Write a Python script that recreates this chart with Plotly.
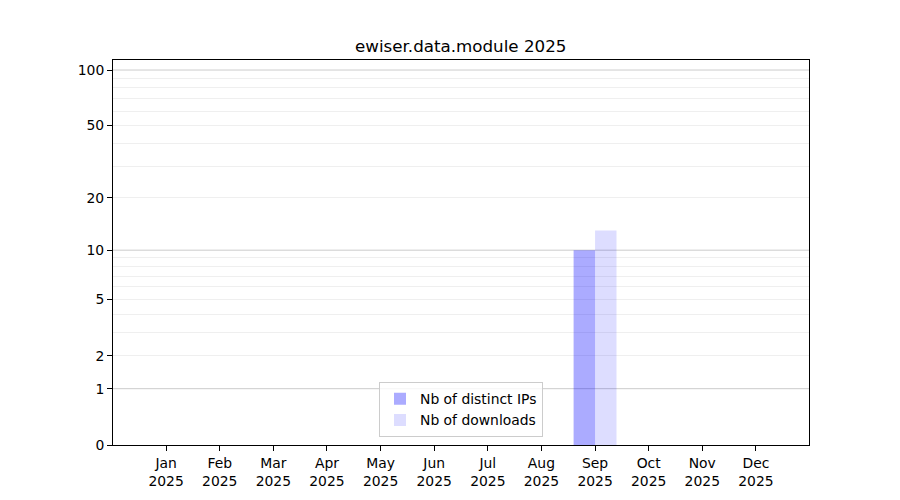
import numpy as np
import plotly.graph_objects as go

font_family = 'DejaVu Sans'

months = ['Jan', 'Feb', 'Mar', 'Apr', 'May', 'Jun', 'Jul', 'Aug', 'Sep', 'Oct', 'Nov', 'Dec']
year = '2025'
distinct_ips = [0, 0, 0, 0, 0, 0, 0, 0, 10, 0, 0, 0]
downloads = [0, 0, 0, 0, 0, 0, 0, 0, 13, 0, 0, 0]

y_tick_values = [0, 1, 2, 5, 10, 20, 50, 100]
y_major_grid = [1, 10, 100]
y_minor_grid = [2, 3, 4, 5, 6, 7, 8, 9, 20, 30, 40, 50, 60, 70, 80, 90]


def sym(v):
	# log(1+x) scale, same as the reference axis
	return np.log10(1 + np.asarray(v, dtype=float))


x_pos = list(range(len(months)))
tick_text = [m + '<br>' + year for m in months]

fig = go.Figure()

fig.add_trace(go.Bar(
	x=x_pos,
	y=sym(distinct_ips),
	customdata=distinct_ips,
	width=0.4,
	offset=-0.4,
	name='Nb of distinct IPs',
	marker=dict(color='rgba(0,0,255,0.33)', line=dict(width=0)),
	hovertemplate='%{customdata}<extra></extra>',
))
fig.add_trace(go.Bar(
	x=x_pos,
	y=sym(downloads),
	customdata=downloads,
	width=0.4,
	offset=0,
	name='Nb of downloads',
	marker=dict(color='rgba(0,0,255,0.135)', line=dict(width=0)),
	hovertemplate='%{customdata}<extra></extra>',
))

# darker grid lines on decades
for v in y_major_grid:
	fig.add_hline(y=float(sym(v)), line=dict(color='#cccccc', width=1), layer='below')

# the page body adds 8px, so margins are trimmed by that
fig.update_layout(
	width=900,
	height=500,
	barmode='overlay',
	plot_bgcolor='white',
	paper_bgcolor='white',
	margin=dict(l=105, r=99, t=52, b=63, pad=0),
	font=dict(family=font_family, size=13.9, color='black'),
	title=dict(
		text='ewiser.data.module 2025',
		font=dict(size=16.7, family=font_family, color='black'),
		x=0.503,
		xanchor='center',
		xref='container',
		y=0.924,
		yanchor='middle',
		yref='container',
	),
	legend=dict(
		x=0.5,
		xanchor='center',
		y=0.02,
		yanchor='bottom',
		bgcolor='rgba(255,255,255,0.8)',
		bordercolor='#cccccc',
		borderwidth=1,
		font=dict(size=13.9, family=font_family),
		tracegroupgap=2,
	),
	showlegend=True,
)

fig.update_xaxes(
	range=[-0.99, 11.99],
	tickvals=x_pos,
	ticktext=tick_text,
	ticks='outside',
	ticklen=5,
	tickcolor='black',
	showline=True,
	linecolor='black',
	linewidth=1,
	mirror=True,
	showgrid=False,
	zeroline=False,
)

fig.update_yaxes(
	range=[0, 2.058],
	tickvals=list(sym(y_tick_values)),
	ticktext=[str(v) for v in y_tick_values],
	ticks='outside',
	ticklen=5,
	tickcolor='black',
	showline=True,
	linecolor='black',
	linewidth=1,
	mirror=True,
	showgrid=False,
	zeroline=False,
	minor=dict(
		tickvals=list(sym(y_minor_grid)),
		showgrid=True,
		gridcolor='#efefef',
		gridwidth=1,
		ticks='',
	),
)

fig.write_html('out.html')
